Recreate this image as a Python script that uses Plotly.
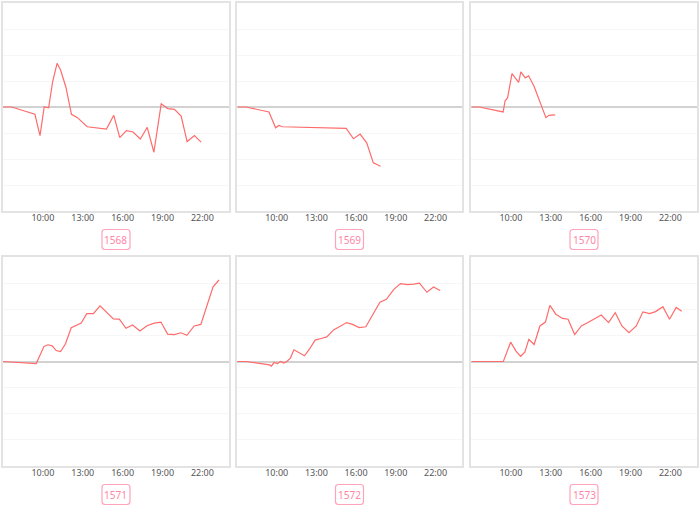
import plotly.graph_objects as go
from datetime import datetime, timedelta

labels = ["1568", "1569", "1570", "1571", "1572", "1573"]

t1568 = [7.0, 7.65, 9.4, 9.78, 10.1, 10.43, 10.73, 11.07, 11.33, 11.73, 12.15, 12.6, 13.33, 14.78, 15.33,
         15.78, 16.28, 16.78, 17.33, 17.85, 18.35, 18.9, 19.4, 19.9, 20.4, 20.85, 21.4, 21.9]
v1568 = [0, 0, -0.28, -1.1, 0, -0.03, 0.97, 1.68, 1.42, 0.76, -0.28, -0.41, -0.76, -0.85, -0.32,
         -1.18, -0.91, -0.96, -1.23, -0.78, -1.74, 0.12, -0.06, -0.09, -0.35, -1.33, -1.1, -1.35]

t1569 = [7.05, 7.67, 9.42, 9.92, 10.17, 10.43, 15.25, 15.8, 16.3, 16.8, 17.3, 17.85]
v1569 = [0, 0, -0.19, -0.8, -0.71, -0.76, -0.82, -1.22, -1.04, -1.38, -2.15, -2.28]

t1570 = [7.05, 7.62, 9.42, 9.57, 9.75, 10.08, 10.58, 10.75, 11.08, 11.33, 11.75, 12.63, 12.87, 13.33]
v1570 = [0, 0, -0.19, 0.24, 0.35, 1.28, 0.95, 1.35, 1.12, 1.2, 0.79, -0.41, -0.32, -0.3]

t1571 = [7.0, 7.75, 9.5, 10.08, 10.38, 10.7, 11.0, 11.33, 11.7, 12.13, 12.5, 12.88, 13.3, 13.8, 14.3,
         14.8, 15.3, 15.75, 16.25, 16.75, 17.3, 17.83, 18.38, 18.88, 19.38, 19.88, 20.38, 20.83,
         21.38, 21.88, 22.33, 22.8, 23.25]
v1571 = [0, -0.02, -0.08, 0.58, 0.64, 0.6, 0.42, 0.38, 0.68, 1.29, 1.37, 1.47, 1.83, 1.83, 2.13,
         1.87, 1.63, 1.62, 1.27, 1.4, 1.17, 1.37, 1.47, 1.51, 1.05, 1.03, 1.1, 1.0,
         1.36, 1.42, 2.09, 2.86, 3.12]

t1572 = [7.02, 7.7, 9.47, 9.6, 9.8, 10.05, 10.3, 10.53, 10.78, 11.03, 11.3, 11.68, 12.1, 12.48, 12.9,
         13.35, 13.78, 14.3, 14.8, 15.28, 15.73, 16.23, 16.73, 17.28, 17.8, 18.28, 18.85, 19.35,
         19.9, 20.35, 20.78, 21.35, 21.85, 22.35]
v1572 = [0, 0, -0.13, -0.18, -0.04, -0.08, 0, -0.06, 0.01, 0.13, 0.45, 0.35, 0.22, 0.48, 0.82,
         0.88, 0.94, 1.21, 1.35, 1.49, 1.42, 1.3, 1.33, 1.8, 2.27, 2.38, 2.76, 2.98,
         2.94, 2.96, 3.0, 2.65, 2.85, 2.72]

t1573 = [7.05, 9.43, 9.98, 10.38, 10.73, 11.05, 11.35, 11.75, 12.18, 12.6, 12.93, 13.38, 13.88, 14.3,
         14.8, 15.3, 15.8, 16.3, 16.8, 17.35, 17.85, 18.35, 18.88, 19.43, 19.93, 20.43, 20.88,
         21.43, 21.93, 22.43, 22.85]
v1573 = [0, 0, 0.74, 0.4, 0.2, 0.36, 0.85, 0.65, 1.36, 1.51, 2.15, 1.81, 1.65, 1.62,
         1.03, 1.36, 1.49, 1.62, 1.78, 1.49, 1.87, 1.36, 1.1, 1.36, 1.9, 1.83, 1.91,
         2.1, 1.62, 2.07, 1.92]

times = [t1568, t1569, t1570, t1571, t1572, t1573]
values = [v1568, v1569, v1570, v1571, v1572, v1573]

tick_hours = [10, 13, 16, 19, 22]
base = datetime(2024, 1, 1)


def to_dt(h):
    return base + timedelta(minutes=round(h * 60))


W, H = 700, 508
col_dom = [(3, 229), (237, 462), (471, 697)]
row_dom = [(3, 211), (257, 466)]
label_y = [239.5, 494.5]

fig = go.Figure()
shapes = []
annotations = []

for i in range(6):
    r, c = divmod(i, 3)
    n = i + 1
    xa = "x" if n == 1 else f"x{n}"
    ya = "y" if n == 1 else f"y{n}"
    fig.add_trace(go.Scatter(
        x=[to_dt(h) for h in times[i]], y=values[i], mode="lines",
        line=dict(color="#ff6b6b", width=1.2), xaxis=xa, yaxis=ya,
        showlegend=False, hoverinfo="skip"))
    x0, x1 = col_dom[c]
    y0, y1 = row_dom[r]
    xdom = [x0 / W, x1 / W]
    ydom = [1 - y1 / H, 1 - y0 / H]
    fig.layout[f"xaxis{n}"] = dict(
        domain=xdom, anchor=ya, type="date",
        range=[base + timedelta(hours=7), base + timedelta(hours=24)],
        tickvals=[base + timedelta(hours=h) for h in tick_hours],
        tickformat="%H:%M", showgrid=False, zeroline=False,
        showline=True, mirror=True, linecolor="#e3e3e3", linewidth=2,
        ticks="", ticklabelstandoff=-3,
        tickfont=dict(size=9, color="#555", family="Noto Sans"),
        fixedrange=True)
    fig.layout[f"yaxis{n}"] = dict(
        domain=ydom, anchor=xa, range=[-4, 4], dtick=1,
        showticklabels=False, showgrid=True, gridcolor="#f6f6f6", gridwidth=1,
        zeroline=True, zerolinecolor="#d2d2d2", zerolinewidth=2,
        showline=True, mirror=True, linecolor="#e3e3e3", linewidth=2,
        ticks="", fixedrange=True)

    # rounded label box
    cx = (x0 + x1) / 2
    cy = label_y[r]
    bw, bh, rad = 28, 20, 3
    L, R = (cx - bw / 2) / W, (cx + bw / 2) / W
    T, B = 1 - (cy - bh / 2) / H, 1 - (cy + bh / 2) / H
    rx, ry = rad / W, rad / H
    path = (f"M {L + rx},{T} L {R - rx},{T} Q {R},{T} {R},{T - ry} "
            f"L {R},{B + ry} Q {R},{B} {R - rx},{B} L {L + rx},{B} "
            f"Q {L},{B} {L},{B + ry} L {L},{T - ry} Q {L},{T} {L + rx},{T} Z")
    shapes.append(dict(type="path", path=path, xref="paper", yref="paper",
                       line=dict(color="#ffa3ba", width=1.2), fillcolor="white"))
    annotations.append(dict(x=cx / W, y=1 - cy / H, xref="paper", yref="paper",
                            text=labels[i], showarrow=False,
                            font=dict(size=10, color="#ff85a5", family="Noto Sans"),
                            xanchor="center", yanchor="middle"))

fig.update_layout(
    width=W, height=H, margin=dict(l=0, r=0, t=0, b=0),
    paper_bgcolor="white", plot_bgcolor="white",
    shapes=shapes, annotations=annotations,
    font=dict(family="Noto Sans"))

fig.write_html("out.html", config={"displayModeBar": False},
               post_script="document.body.style.margin='0';")
